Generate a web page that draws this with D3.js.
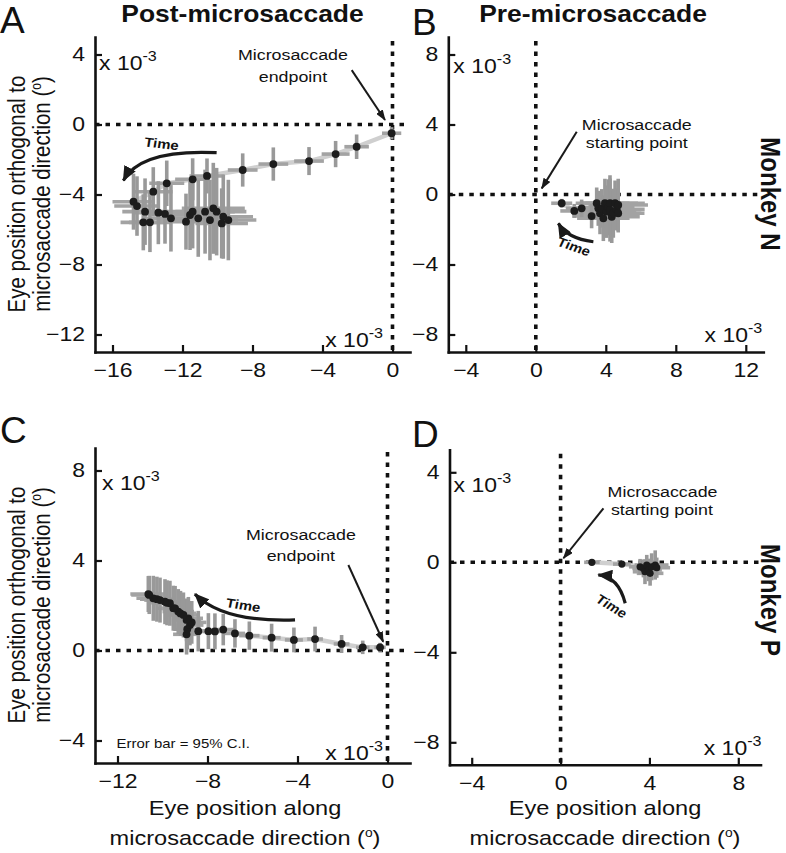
<!DOCTYPE html>
<html><head><meta charset="utf-8">
<script src="https://cdn.jsdelivr.net/npm/d3@7"></script>
<style>body{margin:0;background:#fff}svg{display:block}</style>
</head><body>
<svg id="fig" width="786" height="853"></svg>
<script>
// ---------------- DATA (units of 10^-3 deg) ----------------
// Panel A: Monkey N, post-microsaccade
const aX    = [-0.05,-2.05,-3.25,-4.77,-6.81,-8.56,-10.6,-11.42,-12.9,-13.67,-14.8,-14.6,-14.14,-14.24,-13.86,-13.38,-13.0,-12.66,-11.8,-11.57,-11.42,-11.1,-10.71,-10.43,-10.24,-10.05,-9.67,-9.38,-9.76];
const aY    = [-0.5,-1.27,-1.69,-2.09,-2.26,-2.6,-2.94,-3.13,-3.36,-3.84,-4.41,-4.66,-4.98,-5.59,-5.59,-5.04,-5.11,-5.36,-5.55,-5.17,-4.98,-5.36,-4.98,-5.46,-4.79,-4.98,-5.27,-5.46,-5.65];
const aXErr = [0.55,0.7,0.8,0.85,0.85,0.85,1.0,1.0,1.0,1.1,1.2,1.3,1.3,1.3,1.2,1.4,1.3,1.4,1.5,1.5,1.6,1.5,1.7,1.6,1.8,1.7,1.7,1.6,1.5];
const aYErr = [0.35,0.7,0.75,0.8,0.95,0.95,1.0,1.2,1.3,1.4,1.6,1.7,1.9,1.6,1.7,1.8,1.7,1.9,1.6,2.0,2.1,2.2,2.4,2.3,2.6,2.5,2.4,2.3,2.0];
const aXTicks = [-16,-12,-8,-4,0];
const aYTicks = [4,0,-4,-8,-12];

// Panel B: Monkey N, pre-microsaccade
const bX    = [1.48,2.2,2.62,3.19,3.48,3.57,3.67,3.77,3.86,3.95,4.05,4.14,4.24,4.24,4.34,4.43,4.53,4.62,4.71,4.71];
const bY    = [-0.5,-0.94,-0.79,-1.23,-0.5,-0.79,-1.07,-0.79,-1.36,-0.5,-0.98,-0.73,-0.5,-0.89,-1.27,-1.07,-0.5,-0.85,-0.6,-1.07];
const bXErr = [0.6,0.8,0.9,1.1,1.2,1.3,1.4,1.3,1.5,1.4,1.5,1.5,1.6,1.5,1.6,1.6,1.7,1.6,1.7,1.5];
const bYErr = [0.25,0.4,0.5,0.7,0.9,1.0,1.2,1.1,1.3,1.4,1.5,1.6,1.6,1.8,1.5,1.4,1.3,1.2,1.5,1.1];
const bXTicks = [-4,0,4,8,12];
const bYTicks = [8,4,0,-4,-8];

// Panel C: Monkey P, post-microsaccade
const cX    = [-0.33,-1.1,-2.04,-3.22,-4.16,-5.15,-6.14,-6.78,-7.3,-7.67,-7.96,-8.41,-8.93,-8.9,-8.78,-8.7,-8.85,-8.93,-9.07,-9.2,-9.3,-9.44,-9.52,-9.67,-9.8,-9.89,-10.11,-10.25,-10.41,-10.59,-10.63];
const cY    = [0.14,0.14,0.29,0.51,0.47,0.57,0.66,0.76,0.93,0.85,0.86,0.86,0.72,0.95,1.13,1.25,1.43,1.36,1.58,1.65,1.73,1.87,1.88,2.1,2.12,2.17,2.24,2.28,2.32,2.47,2.51];
const cXErr = [0.25,0.3,0.35,0.35,0.4,0.4,0.45,0.45,0.5,0.5,0.5,0.55,0.6,0.6,0.6,0.65,0.65,0.65,0.7,0.7,0.7,0.7,0.7,0.7,0.7,0.7,0.7,0.75,0.75,0.8,0.8];
const cYErr = [0.2,0.3,0.4,0.55,0.55,0.62,0.63,0.63,0.7,0.8,0.8,0.9,0.9,0.9,0.9,0.95,0.95,0.95,1.0,1.0,1.0,1.0,1.0,1.0,1.0,1.0,1.0,1.0,1.0,0.85,0.8];
const cXTicks = [-12,-8,-4,0];
const cYTicks = [8,4,0,-4];

// Panel D: Monkey P, pre-microsaccade
const dX    = [1.41,2.76,3.58,3.73,3.8,3.88,3.96,4.03,4.1,4.26,4.33];
const dY    = [0.0,-0.08,-0.2,-0.27,-0.42,-0.12,-0.34,-0.49,-0.2,-0.12,-0.24];
const dXErr = [0.35,0.4,0.5,0.5,0.55,0.55,0.6,0.6,0.6,0.6,0.6];
const dYErr = [0.1,0.12,0.35,0.4,0.55,0.45,0.5,0.55,0.6,0.65,0.45];
const dXTicks = [-4,0,4,8];
const dYTicks = [4,0,-4,-8];

// ---------------- DRAWING ----------------
const SX = 1.15;
const FONT = "'Liberation Sans', Arial, Helvetica, sans-serif";
const svg = d3.select("#fig");

const defs = svg.append("defs");
function marker(id, len, wid) {
  defs.append("marker").attr("id", id).attr("markerUnits", "userSpaceOnUse")
    .attr("markerWidth", len).attr("markerHeight", wid)
    .attr("refX", len - 1).attr("refY", wid / 2).attr("orient", "auto")
    .append("path").attr("d", `M0,0 L${len},${wid/2} L0,${wid} Z`).attr("fill", "#1a1a1a");
}
marker("ahThin", 11, 8);
marker("ahThick", 15, 13);

function stext(parent, x, y, rotate) {
  const g = parent.append("g")
    .attr("transform", `translate(${x},${y}) scale(${SX},1)` + (rotate ? ` rotate(${rotate})` : ""));
  return g.append("text").attr("font-family", FONT).attr("fill", "#111");
}

function expLabel(parent, x, y, anchor) {
  const t = stext(parent, x, y).attr("font-size", 20).attr("text-anchor", anchor);
  t.append("tspan").text("x 10");
  t.append("tspan").attr("font-size", 14).attr("dy", -9).text("-3");
}

function drawPanel(p) {
  const x = d3.scaleLinear().domain(p.xDomain).range([p.left, p.left + p.w]);
  const y = d3.scaleLinear().domain(p.yDomain).range([p.top + p.h, p.top]);
  const g = svg.append("g");
  const pts = p.xs.map((v, i) => ({x: v, y: p.ys[i], xe: p.xe[i], ye: p.ye[i]}));

  const dotted = sel => sel.attr("stroke", "#111").attr("stroke-width", 3.6)
    .attr("stroke-dasharray", "4.5,6");
  g.append("line").attr("x1", x(0)).attr("x2", x(0)).attr("y1", p.top + 4).attr("y2", p.top + p.h).call(dotted);
  g.append("line").attr("x1", p.left).attr("x2", p.left + p.w).attr("y1", y(0)).attr("y2", y(0)).call(dotted);

  g.append("path").attr("d", d3.line().x(d => x(d.x)).y(d => y(d.y))(pts))
    .attr("fill", "none").attr("stroke", "#cfcfcf").attr("stroke-width", 4.5);

  g.selectAll("line.ex").data(pts).join("line").attr("class", "ex")
    .attr("x1", d => x(d.x - d.xe)).attr("x2", d => x(d.x + d.xe))
    .attr("y1", d => y(d.y)).attr("y2", d => y(d.y))
    .attr("stroke", "#a3a3a3").attr("stroke-width", 3.6);
  g.selectAll("line.ey").data(pts).join("line").attr("class", "ey")
    .attr("x1", d => x(d.x)).attr("x2", d => x(d.x))
    .attr("y1", d => y(d.y - d.ye)).attr("y2", d => y(d.y + d.ye))
    .attr("stroke", "#999").attr("stroke-width", 3.6);
  g.selectAll("circle").data(pts).join("circle")
    .attr("cx", d => x(d.x)).attr("cy", d => y(d.y)).attr("r", p.r).attr("fill", "#1c1c1c");

  // axes
  const xa = g.append("g").attr("transform", `translate(0,${p.top + p.h})`)
    .call(d3.axisBottom(x).tickValues(p.xTicks).tickSizeInner(-7).tickSizeOuter(0).tickPadding(10));
  const ya = g.append("g").attr("transform", `translate(${p.left},0)`)
    .call(d3.axisLeft(y).tickValues(p.yTicks).tickSizeInner(-7).tickSizeOuter(0).tickPadding(8.7));
  [xa, ya].forEach(a => {
    a.select(".domain").attr("stroke", "#111").attr("stroke-width", 2.6).attr("stroke-linecap", "square");
    a.selectAll(".tick line").attr("stroke", "#111").attr("stroke-width", 2.2);
    a.selectAll(".tick text").attr("font-size", 20).attr("font-family", FONT).attr("fill", "#111")
      .attr("transform", `scale(${SX},1)`);
  });
  xa.selectAll(".tick text").attr("dy", "0.74em");

  // exponent labels
  expLabel(g, p.left + p.expTL[0], p.top + p.expTL[1], "start");
  expLabel(g, p.left + p.expBR[0], p.top + p.h + p.expBR[1], "end");

  // annotation text + arrow
  p.note.lines.forEach(l => {
    stext(g, x(l[1]), y(l[2])).attr("font-size", 15.5).attr("text-anchor", "middle").text(l[0]);
  });
  g.append("line").attr("x1", x(p.note.from[0])).attr("y1", y(p.note.from[1]))
    .attr("x2", x(p.note.to[0])).attr("y2", y(p.note.to[1]))
    .attr("stroke", "#1a1a1a").attr("stroke-width", 2).attr("marker-end", "url(#ahThin)");

  // time arrow
  const tp = d3.path();
  tp.moveTo(x(p.time.from[0]), y(p.time.from[1]));
  tp.quadraticCurveTo(x(p.time.ctrl[0]), y(p.time.ctrl[1]), x(p.time.to[0]), y(p.time.to[1]));
  g.append("path").attr("d", tp.toString()).attr("fill", "none")
    .attr("stroke", "#1a1a1a").attr("stroke-width", 3.2).attr("marker-end", "url(#ahThick)");
  stext(g, x(p.time.label[0]), y(p.time.label[1]), p.time.rot)
    .attr("font-size", 13).attr("font-weight", "bold").attr("text-anchor", "middle")
    .attr("dy", "0.35em").text("Time");

  if (p.errNote) {
    stext(g, x(p.errNote[0]), y(p.errNote[1])).attr("font-size", 13).text("Error bar = 95% C.I.");
  }
}

drawPanel({left: 95, top: 37, w: 315, h: 315, xDomain: [-17, 1], yDomain: [-13, 5],
  xTicks: aXTicks, yTicks: aYTicks, xs: aX, ys: aY, xe: aXErr, ye: aYErr, r: 3.9,
  expTL: [4, 33], expBR: [288, -5],
  note: {lines: [["Microsaccade", -5.69, 3.69], ["endpoint", -5.69, 2.43]], from: [-2.33, 3.11], to: [-0.43, 0.26]},
  time: {from: [-10.05, -1.61], ctrl: [-14.4, -1.4], to: [-15.38, -3.2], label: [-13.19, -1.1], rot: 8}});

drawPanel({left: 448.3, top: 37, w: 315, h: 315, xDomain: [-5, 13], yDomain: [-9, 9],
  xTicks: bXTicks, yTicks: bYTicks, xs: bX, ys: bY, xe: bXErr, ye: bYErr, r: 3.9,
  expTL: [5, 36], expBR: [314, -10],
  note: {lines: [["Microsaccade", 5.77, 3.69], ["starting point", 5.77, 2.64]], from: [2.34, 3.59], to: [0.34, 0.35]},
  time: {from: [3.29, -2.7], ctrl: [1.77, -2.5], to: [1.29, -1.65], label: [2.18, -2.98], rot: 22}});

drawPanel({left: 95, top: 448, w: 315, h: 315, xDomain: [-13, 1], yDomain: [-5, 9],
  xTicks: cXTicks, yTicks: cYTicks, xs: cX, ys: cY, xe: cXErr, ye: cYErr, r: 3.9,
  expTL: [7, 42], expBR: [288, -3],
  note: {lines: [["Microsaccade", -3.85, 4.91], ["endpoint", -3.85, 3.99]], from: [-1.74, 3.8], to: [-0.19, 0.39]},
  time: {from: [-4.11, 1.36], ctrl: [-7.3, 1.25], to: [-8.56, 2.51], label: [-6.41, 2.02], rot: 10},
  errNote: [-12.04, -4.33]});

drawPanel({left: 449.5, top: 449.8, w: 311, h: 315, xDomain: [-5, 9], yDomain: [-9, 5],
  xTicks: dXTicks, yTicks: dYTicks, xs: dX, ys: dY, xe: dXErr, ye: dYErr, r: 3.6,
  expTL: [4, 42], expBR: [312, -10],
  note: {lines: [["Microsaccade", 4.59, 2.92], ["starting point", 4.56, 2.1]], from: [1.93, 2.4], to: [0.13, 0.18]},
  time: {from: [2.91, -1.82], ctrl: [2.6, -0.64], to: [1.7, -0.56], label: [2.3, -1.95], rot: 35}});

// ---------------- LABELS ----------------
const lab = svg.append("g");
[["A", 0, 33], ["B", 412, 35], ["C", 0, 443], ["D", 412, 447]].forEach(d => {
  lab.append("text").attr("x", d[1]).attr("y", d[2]).attr("font-family", FONT)
    .attr("font-size", 37).attr("fill", "#111").text(d[0]);
});
[["Post-microsaccade", 242.5], ["Pre-microsaccade", 593]].forEach(d => {
  stext(lab, d[1], 22).attr("font-size", 23).attr("font-weight", "bold").attr("text-anchor", "middle").text(d[0]);
});
[["Monkey N", 194], ["Monkey P", 600]].forEach(d => {
  stext(lab, 761, d[1], 90).attr("font-size", 24).attr("font-weight", "bold").attr("text-anchor", "middle").text(d[0]);
});

function degLabel(t, pre) {
  t.append("tspan").text(pre + "(");
  t.append("tspan").attr("font-size", 12).attr("dy", -8).text("o");
  t.append("tspan").attr("dy", 8).text(")");
}
[194, 605].forEach(cy => {
  stext(lab, 25, cy, -90).attr("font-size", 20.5).attr("text-anchor", "middle").text("Eye position orthogonal to");
  degLabel(stext(lab, 50, cy, -90).attr("font-size", 20.5).attr("text-anchor", "middle"), "microsaccade direction ");
});
[245, 605].forEach(cx => {
  stext(lab, cx, 815).attr("font-size", 20.5).attr("text-anchor", "middle").text("Eye position along");
  degLabel(stext(lab, cx, 845).attr("font-size", 20.5).attr("text-anchor", "middle"), "microsaccade direction ");
});
</script>
</body></html>
